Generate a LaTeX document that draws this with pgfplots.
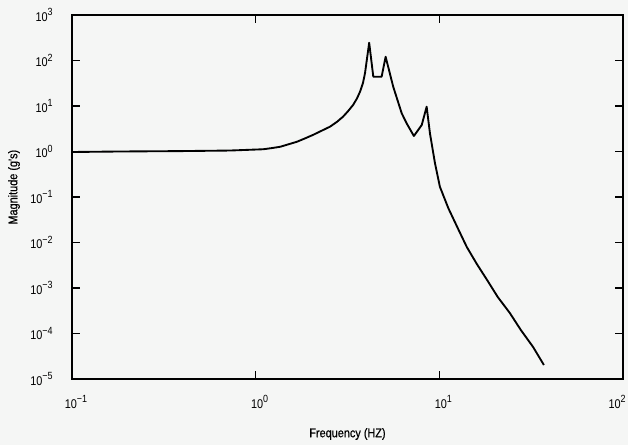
\documentclass[border=0pt]{standalone}
\usepackage{fontspec}
\setmainfont{Liberation Sans}
\newfontfamily\labelfont{Liberation Sans}[FakeStretch=0.86,FakeBold=0.6]
\newfontfamily\tickfont{Liberation Sans}[FakeStretch=0.86]
\newcommand{\tl}[1]{10\raisebox{0.42em}{\fontsize{7.8}{8}\selectfont #1}}
\usepackage{pgfplots}
\pgfplotsset{compat=1.18}
\definecolor{bg}{RGB}{245,246,245}
\begin{document}
\begin{tikzpicture}
\fill[bg] (0,0) rectangle (471pt,333.75pt);
\begin{axis}[
  scale only axis,
  width=413.25pt, height=273pt,
  at={(54pt,49.5pt)}, anchor=south west,
  xmode=log, ymode=log,
  xmin=0.1, xmax=100, ymin=1e-5, ymax=1e3,
  xtick={0.1,1,10},
  xticklabels={\tl{−1},\tl{0},\tl{1}},
  extra x ticks={100},
  extra x tick labels={\tl{2}},
  extra x tick style={xticklabel style={anchor=north east, xshift=2.5pt}},
  ytick={1e-5,1e-4,1e-3,1e-2,1e-1,1,10,100,1000},
  yticklabels={\tl{−5},\tl{−4},\tl{−3},\tl{−2},\tl{−1},\tl{0},\tl{1},\tl{2},\tl{3}},
  xminorticks=false, yminorticks=false,
  tick align=inside,
  major tick length=6pt,
  tick style={black, line width=0.9pt},
  axis line style={black, line width=1pt},
  ticklabel style={font=\tickfont\fontsize{9.5}{11}\selectfont},
  xticklabel style={yshift=-9pt, xshift=3pt},
  yticklabel style={xshift=-11pt},
  xlabel={Frequency (HZ)},
  ylabel={Magnitude (g's)},
  label style={font=\labelfont\fontsize{9.5}{11}\selectfont},
  xlabel style={at={(axis description cs:0.5,-0.151)}, anchor=center},
  ylabel style={at={(axis description cs:-0.1053,0.527)}, anchor=center},
]
\addplot[black, line width=1.4pt, line join=round] coordinates {
(0.1,0.975) (0.182,1.0) (0.387,1.02) (0.724,1.05) (1.10,1.12) (1.227,1.19) (1.36,1.27)
(1.50,1.43) (1.68,1.64) (1.85,1.93) (2.05,2.31) (2.27,2.82) (2.54,3.51) (2.77,4.48)
(2.99,5.82) (3.18,7.65) (3.39,10.5) (3.56,14.6) (3.70,20.6) (3.84,32)
(3.94,53) (4.15,246) (4.37,44) (4.85,44) (5.10,121) (5.61,26.5) (6.24,6.9) (6.67,4.02)
(7.27,2.19) (8.02,3.82) (8.53,9.66) (8.89,2.51) (9.47,0.551) (10.07,0.168)
(11.2,0.0565) (12.55,0.0214) (14.1,0.0080) (16.0,0.00337) (18.2,0.0015) (20.8,6.34e-4)
(24.2,2.82e-4) (27.8,1.19e-4) (32.4,5.05e-5) (37.1,2.03e-5)
};
\end{axis}
\pgfresetboundingbox
\path (0,0) rectangle (471pt,333.75pt);
\end{tikzpicture}
\end{document}
